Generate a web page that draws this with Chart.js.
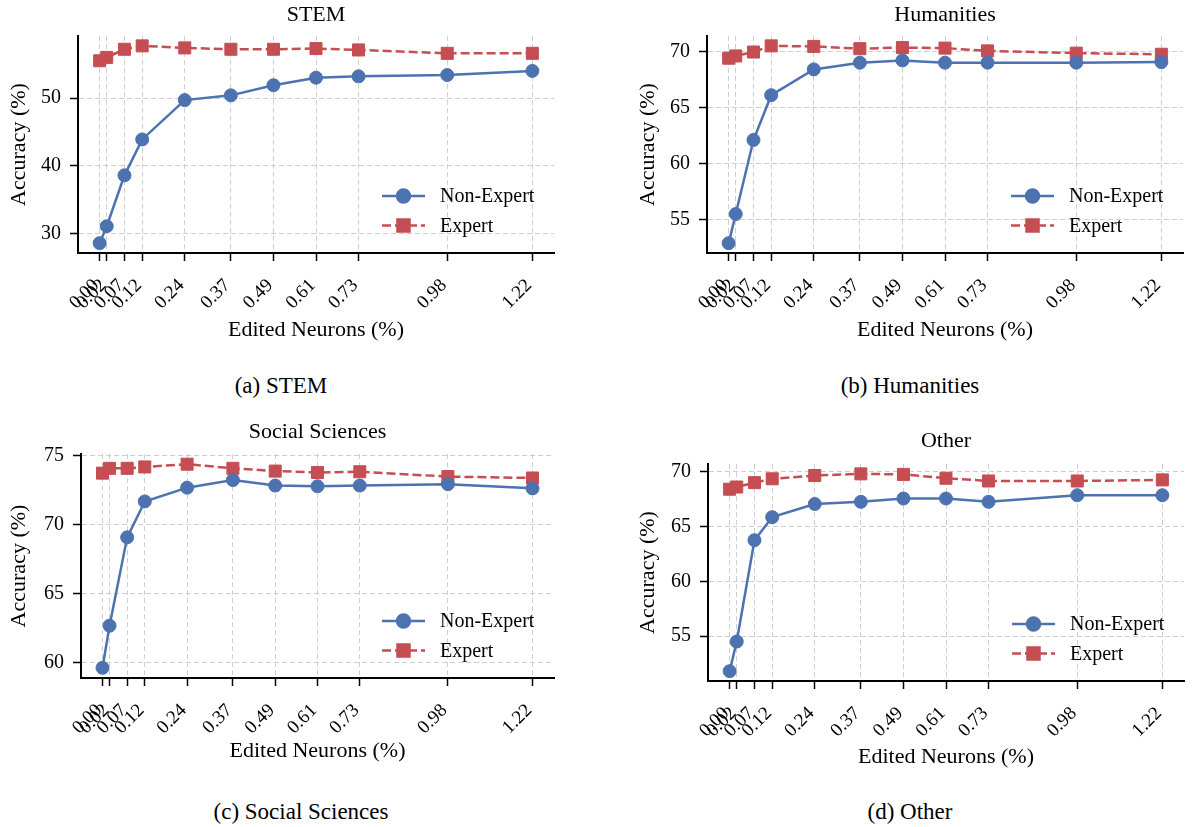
<!DOCTYPE html>
<html>
<head>
<meta charset="utf-8">
<script src="https://cdn.jsdelivr.net/npm/chart.js@4.4.0/dist/chart.umd.min.js"></script>
<style>
body { margin: 0; background: #fff; width: 1192px; height: 827px; position: relative; overflow: hidden; font-family: "Liberation Serif", serif; }
canvas { position: absolute; }
.cap { position: absolute; font-size: 23px; transform: translate(-50%, -50%); white-space: nowrap; color: #000; }
</style>
</head>
<body>
<canvas id="cStem"></canvas>
<canvas id="cHum"></canvas>
<canvas id="cSoc"></canvas>
<canvas id="cOther"></canvas>
<div class="cap" style="left:281px;top:386px">(a) STEM</div>
<div class="cap" style="left:910px;top:386px">(b) Humanities</div>
<div class="cap" style="left:301px;top:812px">(c) Social Sciences</div>
<div class="cap" style="left:910px;top:812px">(d) Other</div>
<script>
// edited neuron ratios (x axis, %)
const editedNeurons = [0.00, 0.02, 0.07, 0.12, 0.24, 0.37, 0.49, 0.61, 0.73, 0.98, 1.22];

const stemNonExpert = [28.6, 31.1, 38.6, 43.9, 49.7, 50.4, 51.9, 53.0, 53.2, 53.4, 54.0];
const stemExpert    = [55.5, 56.0, 57.2, 57.7, 57.4, 57.2, 57.2, 57.3, 57.1, 56.6, 56.6];
const humNonExpert  = [52.9, 55.5, 62.1, 66.1, 68.4, 69.0, 69.2, 69.0, 69.0, 69.0, 69.05];
const humExpert     = [69.4, 69.6, 69.95, 70.5, 70.45, 70.25, 70.35, 70.3, 70.05, 69.85, 69.75];
const socNonExpert  = [59.65, 62.7, 69.1, 71.7, 72.7, 73.25, 72.85, 72.8, 72.85, 72.95, 72.65];
const socExpert     = [73.75, 74.1, 74.1, 74.2, 74.4, 74.1, 73.9, 73.8, 73.85, 73.5, 73.4];
const otherNonExpert = [51.8, 54.5, 63.75, 65.85, 67.05, 67.25, 67.55, 67.55, 67.25, 67.85, 67.85];
const otherExpert    = [68.4, 68.6, 69.0, 69.35, 69.65, 69.8, 69.75, 69.4, 69.15, 69.15, 69.25];

const stemTicks  = [30, 40, 50];
const humTicks   = [55, 60, 65, 70];
const socTicks   = [60, 65, 70, 75];
const otherTicks = [55, 60, 65, 70];

const BLUE = '#4C72B0';
const RED = '#C44E52';

Chart.defaults.font.family = "'Liberation Serif', 'Times New Roman', serif";
Chart.defaults.color = '#000';

// matplotlib style legend drawn inside the plot area, lower right
const innerLegend = {
    id: 'innerLegend',
    afterDatasetsDraw(chart) {
        const ctx = chart.ctx;
        const area = chart.chartArea;
        chart.data.datasets.forEach((ds, i) => {
            const y = area.bottom - 57 + i * 29.5;
            const x0 = area.right - 172, x1 = area.right - 129;
            ctx.save();
            ctx.strokeStyle = ds.borderColor;
            ctx.lineWidth = ds.borderWidth;
            ctx.setLineDash(ds.borderDash || []);
            ctx.beginPath();
            ctx.moveTo(x0, y);
            ctx.lineTo(x1, y);
            ctx.stroke();
            ctx.setLineDash([]);
            Chart.helpers.drawPoint(ctx, {
                pointStyle: ds.pointStyle,
                radius: ds.pointRadius,
                borderWidth: 1
            }, (x0 + x1) / 2, y);
            ctx.fillStyle = ds.borderColor;
            ctx.fill();
            ctx.fillStyle = '#000';
            ctx.font = "20px 'Liberation Serif'";
            ctx.textBaseline = 'middle';
            ctx.textAlign = 'left';
            ctx.fillText(ds.label, area.right - 114, y + 1);
            ctx.restore();
        });
    }
};

function padRange(arrs, frac) {
    const all = [].concat(...arrs);
    const lo = Math.min(...all), hi = Math.max(...all);
    const m = (hi - lo) * frac;
    return [lo - m, hi + m];
}

function makePanel(p) {
    const el = document.getElementById(p.id);
    const W = p.width;
    const H = Math.ceil(p.xTitleY + 18) - p.top;
    el.width = W;
    el.height = H;
    el.style.left = p.left + 'px';
    el.style.top = p.top + 'px';

    const lh = 22 * 1.2;
    const titlePadTop = p.titleY - p.top - lh / 2;
    const titlePadBottom = (p.area.t - p.top) - titlePadTop - lh;
    const xr = padRange([editedNeurons], 0.05);
    const yr = padRange([p.nonExpert, p.expert], 0.05);

    const gridOpts = {
        color: 'rgba(195,195,195,0.8)',
        lineWidth: 1,
        tickColor: '#000',
        tickWidth: 1.5,
        tickLength: 8,
        tickBorderDash: []
    };
    const borderOpts = { display: true, color: '#000', width: 2, dash: [5, 3] };

    new Chart(el.getContext('2d'), {
        type: 'line',
        data: {
            datasets: [{
                label: 'Non-Expert',
                data: editedNeurons.map((x, i) => ({ x: x, y: p.nonExpert[i] })),
                borderColor: BLUE,
                backgroundColor: BLUE,
                borderWidth: 2.5,
                pointStyle: 'circle',
                pointRadius: 6.5,
                pointBorderWidth: 1,
                pointBackgroundColor: BLUE,
                pointBorderColor: BLUE,
                tension: 0
            }, {
                label: 'Expert',
                data: editedNeurons.map((x, i) => ({ x: x, y: p.expert[i] })),
                borderColor: RED,
                backgroundColor: RED,
                borderWidth: 2.5,
                borderDash: [9, 4],
                pointStyle: 'rect',
                pointRadius: 8.5,
                pointBorderWidth: 1,
                pointBackgroundColor: RED,
                pointBorderColor: RED,
                tension: 0
            }]
        },
        options: {
            responsive: false,
            animation: false,
            layout: { padding: { left: 0, top: 0, bottom: 0, right: p.left + W - p.area.r } },
            plugins: {
                legend: { display: false },
                tooltip: { enabled: false },
                title: {
                    display: true,
                    text: p.title,
                    fullSize: false,
                    color: '#000',
                    font: { size: 22, weight: 'normal' },
                    padding: { top: titlePadTop, bottom: titlePadBottom }
                }
            },
            scales: {
                x: {
                    type: 'linear',
                    min: xr[0],
                    max: xr[1],
                    afterBuildTicks: s => { s.ticks = editedNeurons.map(v => ({ value: v })); },
                    afterFit: s => { s.height = p.top + H - p.area.b; },
                    ticks: {
                        autoSkip: false,
                        minRotation: 45,
                        maxRotation: 45,
                        padding: 10,
                        font: { size: 19 },
                        callback: v => v.toFixed(2) + ' '
                    },
                    grid: gridOpts,
                    border: borderOpts,
                    title: {
                        display: true,
                        text: 'Edited Neurons (%)',
                        font: { size: 22 },
                        padding: { top: 0, bottom: (p.top + H) - p.xTitleY - lh / 2 }
                    }
                },
                y: {
                    type: 'linear',
                    min: yr[0],
                    max: yr[1],
                    afterBuildTicks: s => { s.ticks = p.yTicks.map(v => ({ value: v })); },
                    afterFit: s => { s.width = p.area.l - p.left; },
                    ticks: { padding: 9, font: { size: 20 } },
                    grid: gridOpts,
                    border: borderOpts,
                    title: {
                        display: true,
                        text: 'Accuracy (%)',
                        font: { size: 22 },
                        padding: { top: p.yTitleX - p.left - lh / 2, bottom: 0 }
                    }
                }
            }
        },
        plugins: [innerLegend]
    });
}

makePanel({ id: 'cStem', title: 'STEM', left: 0, top: 0, width: 590,
    area: { l: 78, t: 36, r: 554, b: 253 }, titleY: 15, xTitleY: 330, yTitleX: 19,
    nonExpert: stemNonExpert, expert: stemExpert, yTicks: stemTicks });
makePanel({ id: 'cHum', title: 'Humanities', left: 629, top: 0, width: 590,
    area: { l: 707, t: 36, r: 1183, b: 253 }, titleY: 15, xTitleY: 330, yTitleX: 648,
    nonExpert: humNonExpert, expert: humExpert, yTicks: humTicks });
makePanel({ id: 'cSoc', title: 'Social Sciences', left: 0, top: 417, width: 590,
    area: { l: 81, t: 454, r: 554, b: 678 }, titleY: 432, xTitleY: 751, yTitleX: 19,
    nonExpert: socNonExpert, expert: socExpert, yTicks: socTicks });
makePanel({ id: 'cOther', title: 'Other', left: 629, top: 426, width: 590,
    area: { l: 708, t: 464, r: 1184, b: 681 }, titleY: 441, xTitleY: 757, yTitleX: 648,
    nonExpert: otherNonExpert, expert: otherExpert, yTicks: otherTicks });
</script>
</body>
</html>
